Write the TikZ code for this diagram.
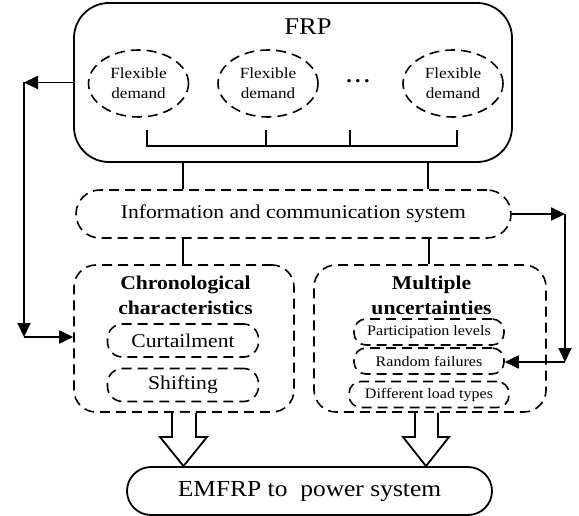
\documentclass[tikz,border=0pt]{standalone}
\usepackage{fontspec}
\setmainfont[FakeStretch=1.108]{Liberation Serif}
\usetikzlibrary{arrows.meta,shapes.geometric,calc}
\begin{document}
\begin{tikzpicture}[x=1pt,y=-1pt,
  ln/.style={line width=1.8pt},
  dsh/.style={line width=1.6pt,dash pattern=on 10pt off 6pt},
  tip/.style={-{Triangle[length=14pt,width=13pt]}},
  fdem/.style={dsh,draw,ellipse,minimum width=100pt,minimum height=67pt,inner sep=0pt,align=center,font=\fontsize{15.5}{20}\selectfont},
  bigbox/.style={dsh,draw,rounded corners=22pt,minimum height=147pt,inner sep=0pt},
  subbox/.style={dsh,draw,rounded corners=15pt,minimum width=151pt,minimum height=33pt,inner sep=0pt,font=\fontsize{19.5}{22}\selectfont},
  smallbox/.style={dsh,draw,rounded corners=12pt,minimum width=150pt,minimum height=26pt,inner sep=0pt,font=\fontsize{14.5}{16}\selectfont},
  ttl/.style={align=center,font=\bfseries\fontsize{19.5}{25}\selectfont,inner sep=0pt},
  hollow/.style={ln,fill=white,line join=miter}
]
\useasboundingbox (0,0) rectangle (579,516);
% FRP
\node[ln,draw,rounded corners=35pt,minimum width=438pt,minimum height=159pt,inner sep=0pt] (frp) at (293,82.5) {};
\node[font=\fontsize{24}{26}\selectfont,inner sep=0pt] (frpt) at (308,27) {FRP};
\node[fdem] (e1) at (138.5,83.5) {Flexible\\demand};
\node[fdem] (e2) at (268,83.5) {Flexible\\demand};
\node[font=\bfseries\fontsize{20}{22}\selectfont,inner sep=0pt] (dots) at (358,81) {.\,.\,.};
\node[fdem] (e3) at (453,83.5) {Flexible\\demand};
\draw[ln] (147,130) -- (147,146) -- (457,146) -- (457,130);
\draw[ln] (266,130) -- (266,146);
\draw[ln] (350,130) -- (350,146);
% ICS
\node[dsh,draw,rounded corners=24pt,minimum width=435pt,minimum height=48pt,inner sep=0pt,font=\fontsize{19.5}{22}\selectfont] (ics) at (293.5,214) {Information and communication system};
\draw[ln] (frp.south -| 183,0) -- (ics.north -| 183,0);
\draw[ln] (frp.south -| 428,0) -- (ics.north -| 428,0);
% chronological
\node[bigbox,minimum width=220pt] (chr) at (184,338.5) {};
\node[ttl] (chrt) at (185.5,295) {Chronological\\characteristics};
\node[subbox] (cur) at (183,340.5) {Curtailment};
\node[subbox] (shf) at (183,385) {Shifting};
% multiple
\node[bigbox,minimum width=232pt] (mul) at (430,338.5) {};
\node[ttl] (mult) at (431.5,295) {Multiple\\uncertainties};
\node[smallbox] (par) at (429,332) {Participation levels};
\node[smallbox] (rf) at (429,361) {Random failures};
\node[smallbox,minimum width=160pt] (dlt) at (429,394.5) {Different load types};
\draw[ln] (ics.south -| 183,0) -- (chr.north -| 183,0);
\draw[ln] (ics.south -| 429,0) -- (mul.north -| 429,0);
% EMFRP
\node[ln,draw,rounded corners=24pt,minimum width=365pt,minimum height=48pt,inner sep=0pt,font=\fontsize{23}{26}\selectfont] (em) at (309.5,491) {EMFRP to\ \ power system};
% hollow arrows
\draw[hollow] (chr.south -| 172,0) -- (172,437) -- (160,437) -- (em.north -| 183.5,0) -- (207,437) -- (196,437) -- (chr.south -| 196,0);
\draw[hollow] (mul.south -| 415,0) -- (415,437) -- (403,437) -- (em.north -| 426,0) -- (449,437) -- (438,437) -- (mul.south -| 438,0);
% feedback arrows left
\coordinate (l1) at (24,82.5);
\coordinate (l2) at (24,337);
\draw[ln,tip] (frp.west) -- (l1);
\draw[ln,tip] (l1) -- (l2);
\draw[ln,tip] (l2) -- (chr.west |- l2);
% right
\coordinate (r1) at (565,214);
\coordinate (r2) at (565,362);
\draw[ln,tip] (ics.east) -- (r1);
\draw[ln,tip] (r1) -- (r2);
\draw[ln,tip] (r2) -- (rf.east |- r2);
\end{tikzpicture}
\end{document}
